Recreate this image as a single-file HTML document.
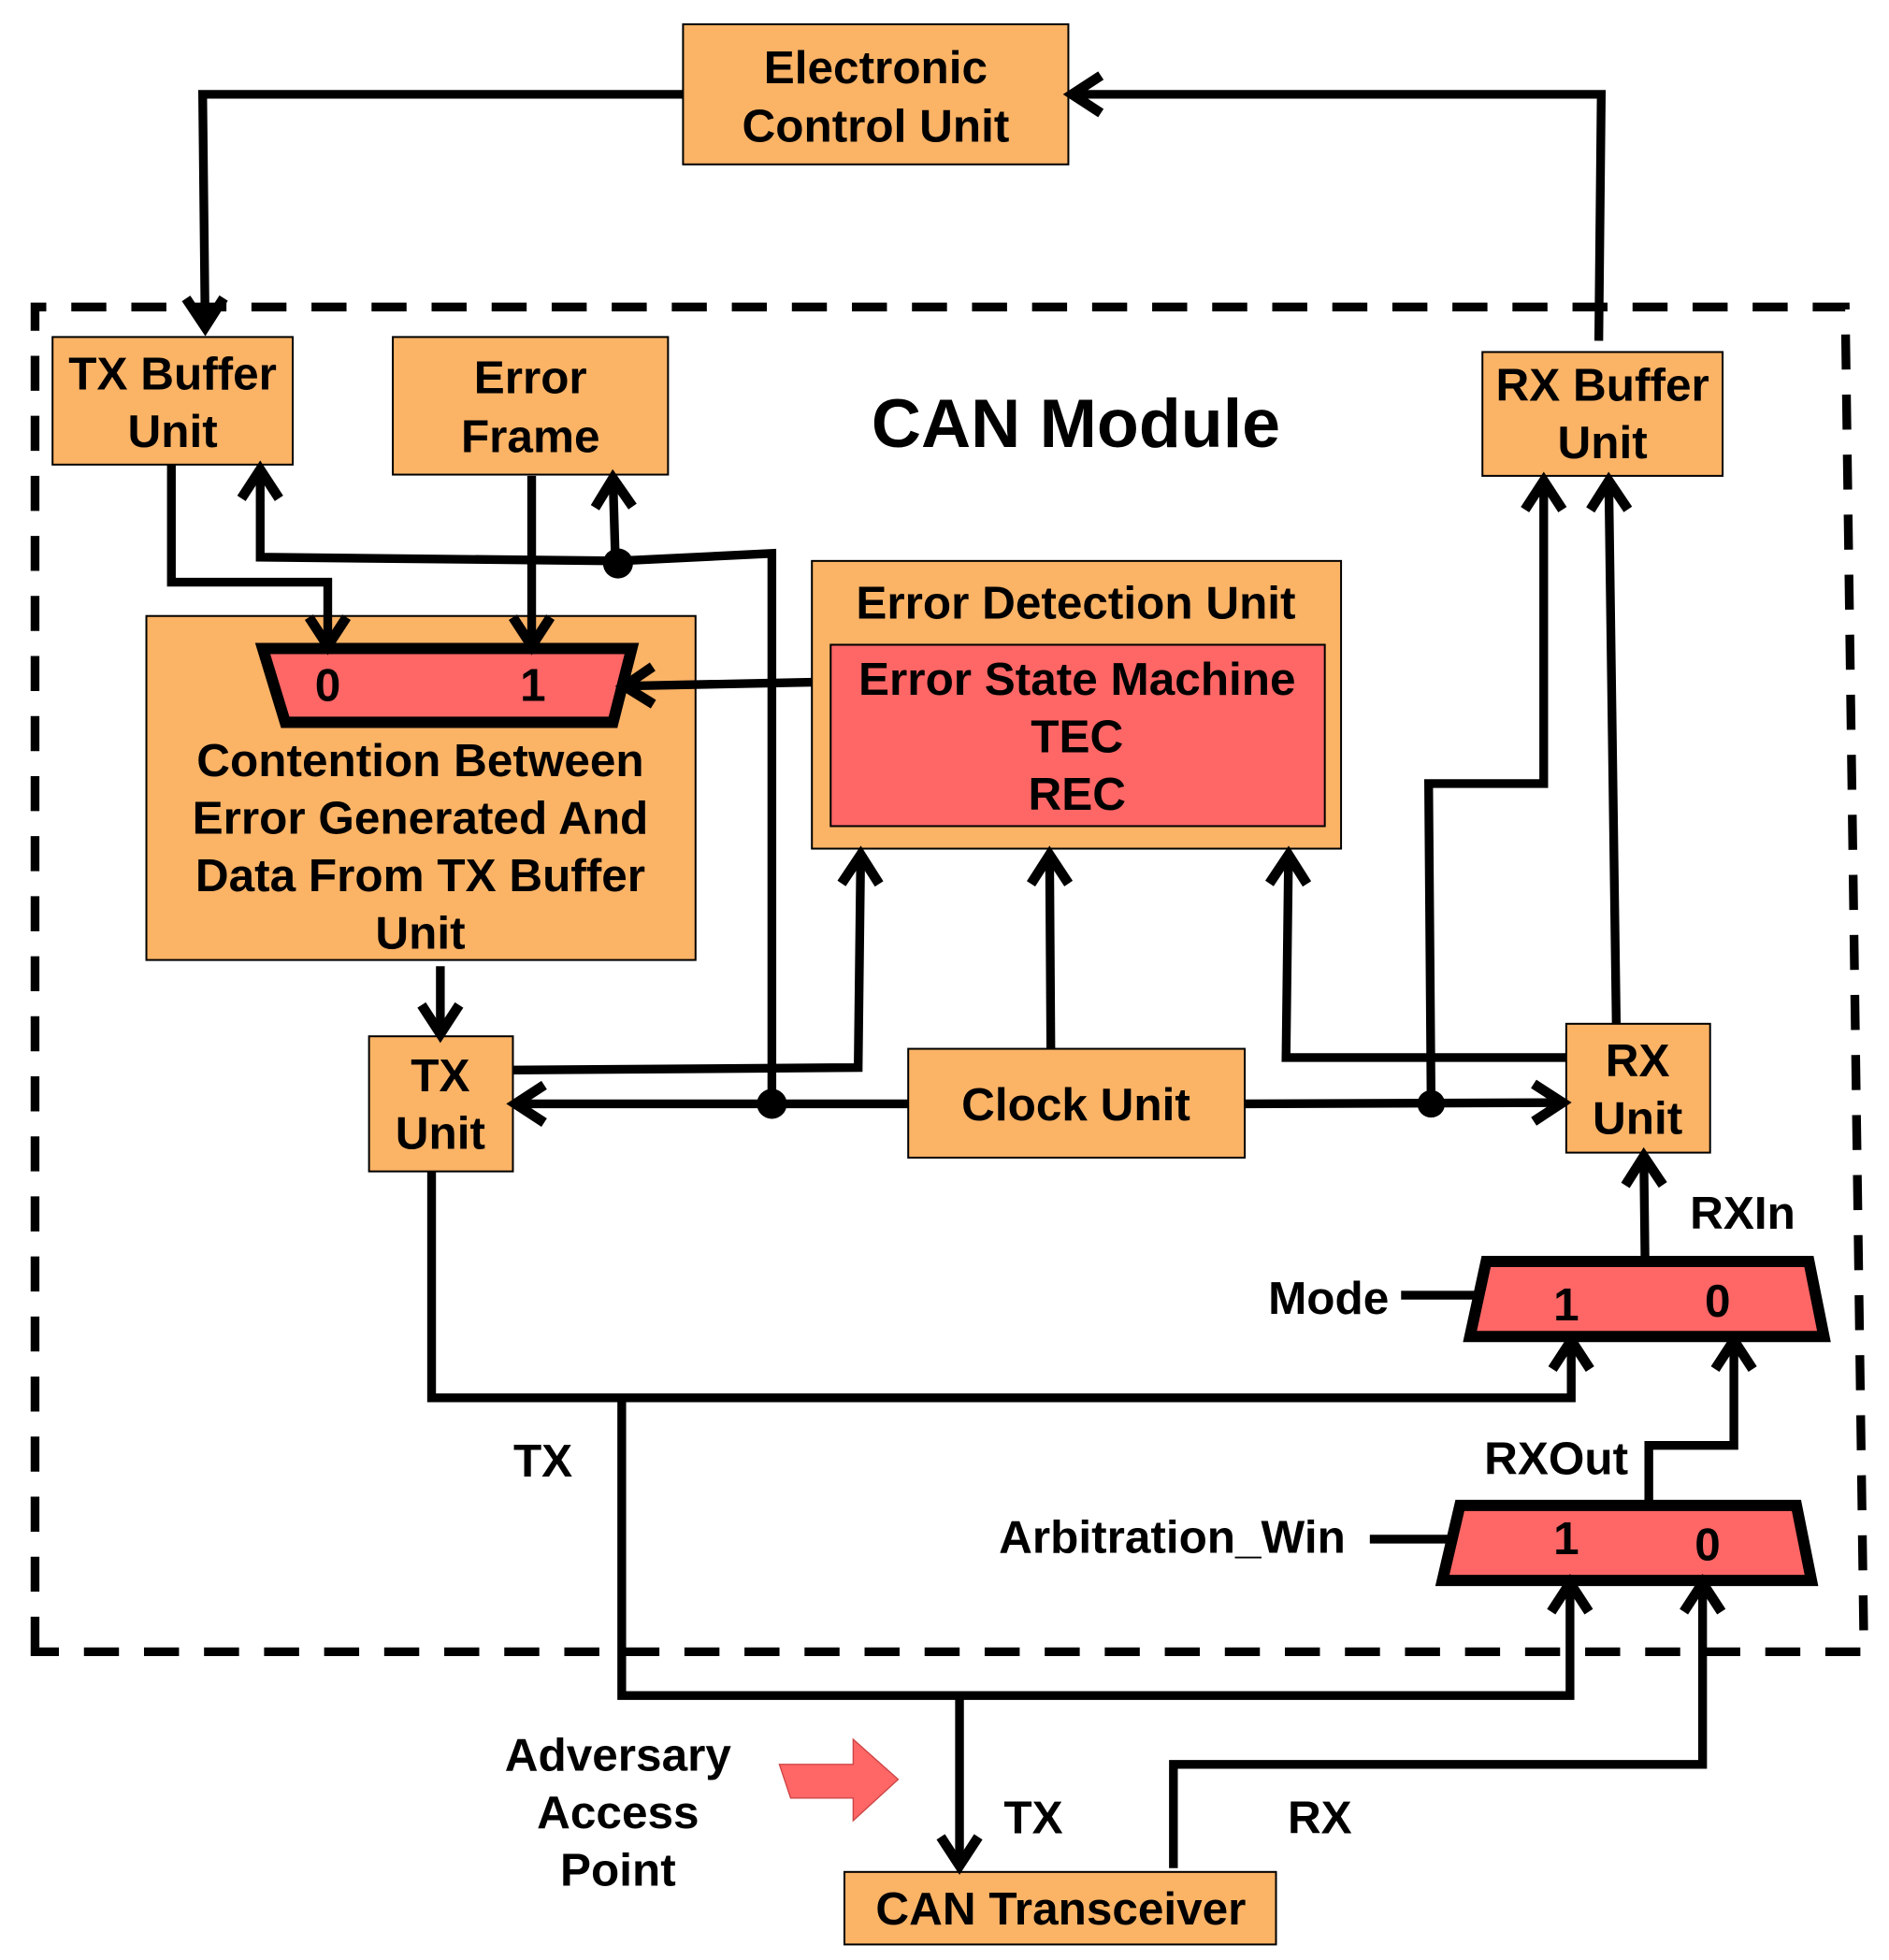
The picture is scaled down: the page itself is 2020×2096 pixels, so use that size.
<!DOCTYPE html>
<html><head><meta charset="utf-8"><style>
html,body{margin:0;padding:0;background:#fff;}
svg{display:block;}
text{font-family:"Liberation Sans",sans-serif;font-weight:bold;fill:#000;text-anchor:middle;}
</style></head><body>
<svg width="2020" height="2096" viewBox="0 0 1510 1566" xmlns="http://www.w3.org/2000/svg">
<defs>
<marker id="a" markerUnits="userSpaceOnUse" markerWidth="40" markerHeight="40" refX="30" refY="20" orient="auto">
<path d="M8,5 L31,20 L8,35" fill="none" stroke="#000" stroke-width="8" stroke-linejoin="miter"/>
</marker>
</defs>
<g fill="none" stroke="#000" stroke-width="7">
<path d="M28,1320 L28,245 L1475,245 L1490,1320 Z" stroke-dasharray="28,20"/>
</g>
<g stroke="#000" stroke-width="1.5">
<rect x="546" y="19" width="308" height="112" fill="#FBB366"/>
<rect x="42" y="269" width="192" height="102" fill="#FBB366"/>
<rect x="314" y="269" width="220" height="110" fill="#FBB366"/>
<rect x="1185" y="281" width="192" height="99" fill="#FBB366"/>
<rect x="649" y="448" width="423" height="230" fill="#FBB366"/>
<rect x="664" y="515" width="395" height="145" fill="#FF6666"/>
<rect x="117" y="492" width="439" height="275" fill="#FBB366"/>
<rect x="295" y="828" width="115" height="108" fill="#FBB366"/>
<rect x="726" y="838" width="269" height="87" fill="#FBB366"/>
<rect x="1252" y="818" width="115" height="103" fill="#FBB366"/>
<rect x="675" y="1496" width="345" height="58" fill="#FBB366"/>
</g>
<g stroke="#000" stroke-width="9" fill="#FF6666" stroke-linejoin="miter">
<polygon points="210,518 505,518 490,577 228,577"/>
<polygon points="1188,1008 1446,1008 1458,1068 1175,1068"/>
<polygon points="1167,1203 1436,1203 1448,1263 1153,1263"/>
</g>
<polygon points="623,1410 682,1410 682,1390 718,1422 682,1455 682,1437 632,1437" fill="#FF6666" stroke="#c44" stroke-width="1"/>
<g fill="none" stroke="#000" stroke-width="7" stroke-linejoin="miter">
<path d="M546,75 L162,75 L164,260" marker-end="url(#a)"/>
<path d="M1278,272 L1280,75 L858,75" marker-end="url(#a)"/>
<path d="M137,371 L137,465 L262,465 L262,515" marker-end="url(#a)"/>
<path d="M425,380 L425,515" marker-end="url(#a)"/>
<path d="M617,882 L617,442 L495,448 L208,445 L208,376" marker-end="url(#a)"/>
<path d="M492,450 L490,383" marker-end="url(#a)"/>
<path d="M649,545 L500,548" marker-end="url(#a)"/>
<path d="M352,772 L352,825" marker-end="url(#a)"/>
<path d="M410,855 L686,853 L688,684" marker-end="url(#a)"/>
<path d="M726,882 L413,882" marker-end="url(#a)"/>
<path d="M840,838 L839,684" marker-end="url(#a)"/>
<path d="M995,882 L1248,881" marker-end="url(#a)"/>
<path d="M1144,882 L1142,626 L1234,626 L1234,385" marker-end="url(#a)"/>
<path d="M1252,845 L1028,845 L1030,684" marker-end="url(#a)"/>
<path d="M1292,818 L1286,385" marker-end="url(#a)"/>
<path d="M1315,1008 L1314,925" marker-end="url(#a)"/>
<path d="M1120,1035 L1185,1035"/>
<path d="M345,936 L345,1117 L1256,1117 L1256,1072" marker-end="url(#a)"/>
<path d="M497,1117 L497,1355 L1255,1355 L1255,1266" marker-end="url(#a)"/>
<path d="M767,1355 L767,1490" marker-end="url(#a)"/>
<path d="M1318,1203 L1318,1155 L1386,1155 L1386,1072" marker-end="url(#a)"/>
<path d="M1095,1230 L1160,1230"/>
<path d="M938,1493 L938,1410 L1361,1410 L1361,1266" marker-end="url(#a)"/>
</g>
<g fill="#000">
<circle cx="494" cy="450" r="12"/>
<circle cx="617" cy="882" r="12"/>
<circle cx="1144" cy="882" r="11"/>
</g>
<g font-size="37">
<text x="700" y="66">Electronic</text>
<text x="700" y="113">Control Unit</text>
<text x="138" y="311">TX Buffer</text>
<text x="138" y="357">Unit</text>
<text x="424" y="314">Error</text>
<text x="424" y="361">Frame</text>
<text x="1281" y="320">RX Buffer</text>
<text x="1281" y="366">Unit</text>
<text x="860" y="494">Error Detection Unit</text>
<text x="861" y="555">Error State Machine</text>
<text x="861" y="601">TEC</text>
<text x="861" y="647">REC</text>
<text x="262" y="560">0</text>
<text x="426" y="560">1</text>
<text x="336" y="620">Contention Between</text>
<text x="336" y="666">Error Generated And</text>
<text x="336" y="712">Data From TX Buffer</text>
<text x="336" y="758">Unit</text>
<text x="352" y="872">TX</text>
<text x="352" y="918">Unit</text>
<text x="860" y="895">Clock Unit</text>
<text x="1309" y="860">RX</text>
<text x="1309" y="906">Unit</text>
<text x="1252" y="1055">1</text>
<text x="1373" y="1052">0</text>
<text x="1252" y="1242">1</text>
<text x="1365" y="1247">0</text>
<text x="1393" y="982">RXIn</text>
<text x="1062" y="1050">Mode</text>
<text x="1244" y="1178">RXOut</text>
<text x="937" y="1241">Arbitration_Win</text>
<text x="434" y="1180">TX</text>
<text x="826" y="1465">TX</text>
<text x="1055" y="1465">RX</text>
<text x="494" y="1415">Adversary</text>
<text x="494" y="1461">Access</text>
<text x="494" y="1507">Point</text>
<text x="848" y="1538">CAN Transceiver</text>
</g>
<text x="860" y="357" font-size="55">CAN Module</text>
</svg>
</body></html>
